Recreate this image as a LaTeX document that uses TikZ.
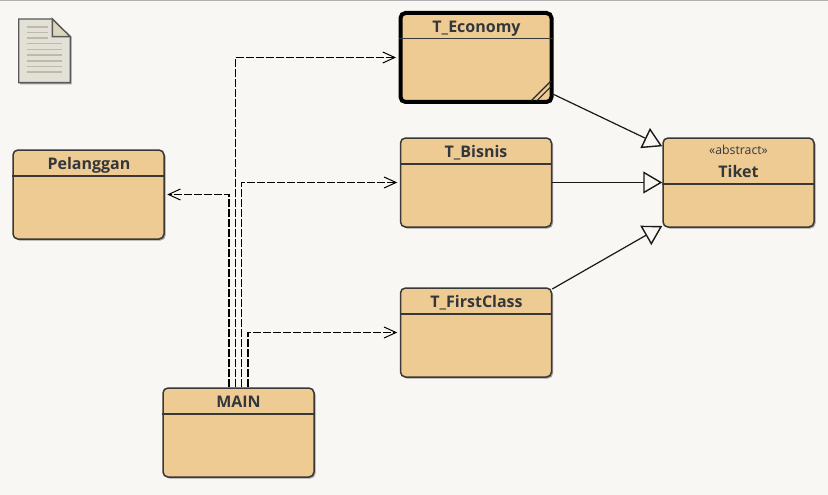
\documentclass[tikz,border=0pt]{standalone}
\usepackage{fontspec}
\setmainfont{Open Sans}
\usetikzlibrary{arrows.meta,shadows}

\definecolor{canvasbg}{HTML}{F8F7F3}
\definecolor{classfill}{HTML}{EFCB94}
\definecolor{classedge}{HTML}{383836}
\definecolor{classtext}{HTML}{33373C}
\definecolor{iconfill}{HTML}{E3E0D6}
\definecolor{iconfold}{HTML}{DDD6BF}
\definecolor{iconline}{HTML}{BDBAAC}

\tikzset{
  classbox/.style={draw=classedge,fill=classfill,line width=1.5pt,rounded corners=5pt,
    minimum width=151pt,minimum height=89pt,inner sep=0pt,
    drop shadow={shadow xshift=1.5pt,shadow yshift=-1.5pt,opacity=.35,fill=black}},
  classtitle/.style={text=classtext,font=\fontsize{16}{16}\selectfont\bfseries,inner sep=0pt,
    text height=11pt,text depth=3.5pt},
  classrule/.style={draw=classedge,line width=1.4pt},
  dependency/.style={draw=black,line width=1.1pt,dash pattern=on 8pt off 2pt,shorten >=2.5pt,
    -{Straight Barb[length=12pt,width=11pt,line width=1pt]}},
  generalize/.style={draw=black!90,line width=1.2pt,
    -{Triangle[open,fill=canvasbg,length=19pt,width=22pt,line width=1.4pt]}}
}

\begin{document}
\begin{tikzpicture}[x=1pt,y=-1pt]
  \useasboundingbox (0,0) rectangle (828,495);
  \fill[canvasbg] (0,0) rectangle (828,495);
  \draw[black!30,line width=1.5pt] (0,0.5) -- (828,0.5);

  % Document icon
  \fill[black!35] (20,21) -- (53.5,21) -- (71.5,38) -- (71.5,84.5) -- (20,84.5) -- cycle;
  \draw[draw=black!65,fill=iconfill,line width=1.4pt]
    (18.7,19) -- (52.3,19) -- (70.3,36.7) -- (70.3,82.7) -- (18.7,82.7) -- cycle;
  \draw[draw=black!65,fill=iconfold,line width=1.4pt]
    (52.3,19) -- (70.3,36.7) -- (52.3,36.7) -- cycle;
  \foreach \y in {27.3,32.7,38.3}
    \draw[iconline,line width=1.6pt] (26.7,\y) -- (48.3,\y);
  \foreach \y in {43.7,49.7,55.3,61,66.7,72.3}
    \draw[iconline,line width=1.6pt] (26.7,\y) -- (62,\y);

  % Classes
  \node[classbox,line width=4pt,draw=black] (teconomy) at (476,57.5) {};
  \node[classbox] (tbisnis) at (476,182.5) {};
  \node[classbox] (tfirstclass) at (476,332.5) {};
  \node[classbox] (pelanggan) at (88.5,194.5) {};
  \node[classbox] (main) at (238.5,432.5) {};
  \node[classbox] (tiket) at (738.5,182.5) {};

  % Titles
  \node[classtitle] (teconomytitle) at (476.5,28.7) {T\_Economy};
  \node[classtitle] (tbisnistitle) at (476,153.5) {T\_Bisnis};
  \node[classtitle] (tfirstclasstitle) at (476.5,303.5) {T\_FirstClass};
  \node[classtitle] (pelanggantitle) at (89,165.5) {Pelanggan};
  \node[classtitle] (maintitle) at (238.5,403.5) {MAIN};
  \node[classtitle] (tikettitle) at (738.5,173.5) {Tiket};
  \node[text=classtext,font=\fontsize{12.3}{12.3}\selectfont,inner sep=0pt] (tiketstereo) at (738.5,149.5) {«abstract»};

  % Header rules
  \draw[classrule] (teconomy.west |- 0,38.5) -- (teconomy.east |- 0,38.5);
  \draw[classrule] (tbisnis.west |- 0,164) -- (tbisnis.east |- 0,164);
  \draw[classrule] (tfirstclass.west |- 0,314) -- (tfirstclass.east |- 0,314);
  \draw[classrule] (pelanggan.west |- 0,176) -- (pelanggan.east |- 0,176);
  \draw[classrule] (main.west |- 0,414) -- (main.east |- 0,414);
  \draw[classrule] (tiket.west |- 0,184) -- (tiket.east |- 0,184);

  % Corner mark
  \draw[black!85,line width=1.1pt] (531,101) -- (551,81);
  \draw[black!85,line width=1.1pt] (536.7,101) -- (551,86.7);

  % Inheritance
  \draw[generalize] (teconomy) -- (tiket);
  \draw[generalize] (tbisnis) -- (tiket);
  \draw[generalize] (tfirstclass) -- (tiket);

  % Dependencies
  \draw[dependency] ([xshift=-9.5pt]main.north) |- (pelanggan);
  \draw[dependency] ([xshift=-3.2pt]main.north) |- (teconomy);
  \draw[dependency] ([xshift=3pt]main.north) |- (tbisnis);
  \draw[dependency] ([xshift=9.5pt]main.north) |- (tfirstclass);
\end{tikzpicture}
\end{document}
